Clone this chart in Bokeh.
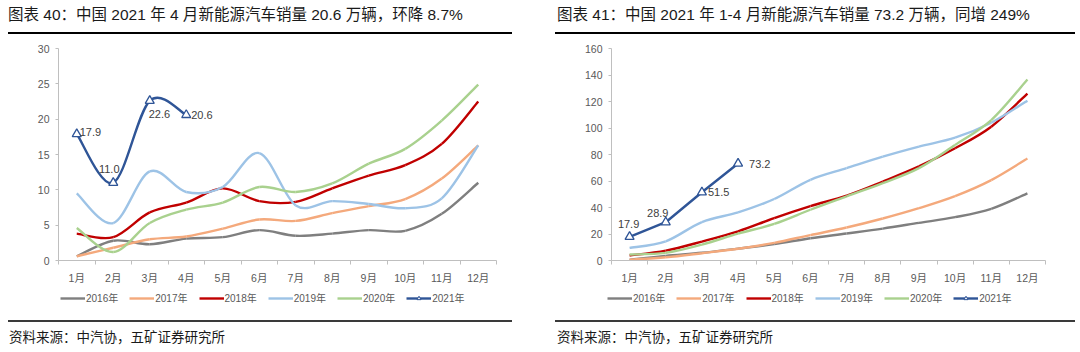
import numpy as np
from bokeh.plotting import figure
from bokeh.layouts import row, column
from bokeh.models import Range1d, FixedTicker, Legend, LegendItem, ColumnDataSource, Div
from bokeh.core.properties import value
from bokeh.embed import file_html
from bokeh.resources import INLINE

months = ["1月", "2月", "3月", "4月", "5月", "6月", "7月", "8月", "9月", "10月", "11月", "12月"]
years = ["2016年", "2017年", "2018年", "2019年", "2020年", "2021年"]

title_left = "图表 40：中国 2021 年 4 月新能源汽车销量 20.6 万辆，环降 8.7%"
title_right = "图表 41：中国 2021 年 1-4 月新能源汽车销量 73.2 万辆，同增 249%"
source_text = "资料来源：中汽协，五矿证券研究所"

# Monthly NEV sales (10k units)
m2016 = [0.6, 2.8, 2.3, 3.1, 3.3, 4.3, 3.5, 3.8, 4.3, 4.2, 6.6, 11.0]
m2017 = [0.6, 1.8, 3.0, 3.4, 4.5, 5.8, 5.6, 6.7, 7.7, 8.7, 11.6, 16.3]
m2018 = [3.8, 3.3, 6.8, 8.2, 10.2, 8.4, 8.3, 10.2, 12.0, 13.5, 16.5, 22.5]
m2019 = [9.5, 5.3, 12.6, 9.7, 10.4, 15.2, 7.8, 8.4, 8.0, 7.4, 8.8, 16.3]
m2020 = [4.6, 1.2, 5.3, 7.2, 8.2, 10.4, 9.7, 10.9, 13.7, 15.8, 19.8, 24.9]
m2021 = [17.9, 11.0, 22.6, 20.6]

# Cumulative NEV sales (10k units)
c2016 = [0.6, 3.5, 5.8, 9.0, 12.4, 16.8, 20.4, 24.1, 28.4, 32.7, 39.0, 50.7]
c2017 = [0.6, 2.4, 5.5, 8.9, 13.3, 19.2, 24.9, 31.7, 39.5, 48.6, 60.7, 77.0]
c2018 = [3.8, 7.5, 14.3, 22.0, 32.0, 41.0, 49.0, 59.6, 71.0, 84.7, 101.0, 126.0]
c2019 = [9.5, 14.5, 29.0, 36.3, 46.4, 60.9, 69.7, 78.4, 86.0, 92.7, 104.0, 120.6]
c2020 = [4.5, 5.8, 12.0, 20.3, 27.6, 38.3, 48.4, 58.4, 69.7, 87.2, 106.0, 136.6]
c2021 = [17.9, 28.9, 51.5, 73.2]

colors = ["#7f7f7f", "#f4a97c", "#c00000", "#9dc3e6", "#a9d18e", "#2f5597"]

FONT = "'Liberation Sans', 'Noto Sans CJK SC', sans-serif"
GREY = "#595959"
AXIS = "#bfbfbf"
LW = 2.4


def bezier_source(ys):
    xs = np.arange(1, len(ys) + 1, dtype=float)
    y = np.asarray(ys, dtype=float)
    n = len(y)
    px = np.concatenate([[xs[0]], xs, [xs[-1]]])
    py = np.concatenate([[y[0]], y, [y[-1]]])
    d = dict(x0=[], y0=[], x1=[], y1=[], cx0=[], cy0=[], cx1=[], cy1=[])
    for i in range(n - 1):
        d["x0"].append(px[i + 1]); d["y0"].append(py[i + 1])
        d["x1"].append(px[i + 2]); d["y1"].append(py[i + 2])
        d["cx0"].append(px[i + 1] + (px[i + 2] - px[i]) / 6)
        d["cy0"].append(py[i + 1] + (py[i + 2] - py[i]) / 6)
        d["cx1"].append(px[i + 2] - (px[i + 3] - px[i + 1]) / 6)
        d["cy1"].append(py[i + 2] - (py[i + 3] - py[i + 1]) / 6)
    return ColumnDataSource(d)


def make_panel(series, last, ymax, ystep, left, right, bottom, smooth_last, label_specs):
    p = figure(width=540, height=252, output_backend="svg", toolbar_location=None,
               x_range=Range1d(0.5, 12.5), y_range=Range1d(0, ymax),
               min_border_left=left, min_border_right=right, min_border_top=8,
               min_border_bottom=bottom)
    p.outline_line_color = None
    p.xgrid.visible = False
    p.ygrid.visible = False
    p.background_fill_color = "white"
    p.border_fill_color = "white"

    xa = p.xaxis[0]
    xa.ticker = FixedTicker(ticks=list(range(1, 13)), minor_ticks=[i + 0.5 for i in range(0, 13)])
    xa.major_label_overrides = {i + 1: m for i, m in enumerate(months)}
    xa.axis_line_color = AXIS
    xa.major_tick_out = 0
    xa.major_tick_in = 0
    xa.minor_tick_out = 4
    xa.minor_tick_in = 0
    xa.minor_tick_line_color = AXIS
    xa.major_label_text_font = FONT
    xa.major_label_text_font_size = "10.5px"
    xa.major_label_text_color = GREY
    xa.major_label_standoff = 7

    ya = p.yaxis[0]
    ya.ticker = FixedTicker(ticks=list(range(0, ymax + 1, ystep)))
    ya.axis_line_color = AXIS
    ya.major_tick_line_color = AXIS
    ya.major_tick_out = 3
    ya.major_tick_in = 0
    ya.minor_tick_line_color = None
    ya.major_label_text_font = FONT
    ya.major_label_text_font_size = "10.5px"
    ya.major_label_text_color = GREY
    ya.major_label_standoff = 6

    for ys, c in zip(series, colors[:5]):
        src = bezier_source(ys)
        p.bezier(x0="x0", y0="y0", x1="x1", y1="y1", cx0="cx0", cy0="cy0", cx1="cx1", cy1="cy1",
                 source=src, line_color=c, line_width=LW)

    xs_last = list(range(1, len(last) + 1))
    if smooth_last:
        src = bezier_source(last)
        p.bezier(x0="x0", y0="y0", x1="x1", y1="y1", cx0="cx0", cy0="cy0", cx1="cx1", cy1="cy1",
                 source=src, line_color=colors[5], line_width=LW)
    else:
        p.line(x=xs_last, y=last, line_color=colors[5], line_width=LW)
    p.scatter(x=xs_last, y=last, marker="triangle", size=9, line_color=colors[5],
              fill_color="white", line_width=1.3)

    for (xi, yi), (dx, dy, align) in zip(zip(xs_last, last), label_specs):
        p.text(x=[xi], y=[yi], text=[f"{yi:.1f}"], x_offset=dx, y_offset=dy,
               text_align=align, text_baseline="middle", text_font=value(FONT),
               text_font_size="11px", text_color="#404040")
    return p


def make_legend(leg_x):
    q = figure(width=540, height=18, output_backend="svg", toolbar_location=None,
               x_range=Range1d(0, 1), y_range=Range1d(0, 1),
               x_axis_type=None, y_axis_type=None, min_border=0)
    q.outline_line_color = None
    q.xgrid.visible = False
    q.ygrid.visible = False
    items = []
    for name, c in zip(years[:5], colors[:5]):
        src = ColumnDataSource(dict(x=[np.nan], y=[np.nan]))
        r = q.line(x="x", y="y", source=src, line_color=c, line_width=LW)
        items.append(LegendItem(label=name, renderers=[r]))
    src = ColumnDataSource(dict(x=[np.nan], y=[np.nan]))
    rl = q.line(x="x", y="y", source=src, line_color=colors[5], line_width=LW)
    rm = q.scatter(x="x", y="y", source=src, marker="triangle", size=6, line_color=colors[5],
                   fill_color="white", line_width=1.0)
    items.append(LegendItem(label=years[5], renderers=[rl, rm]))
    legend = Legend(items=items, orientation="horizontal", location=(leg_x, 5),
                    glyph_width=25, glyph_height=10, label_standoff=1, spacing=11,
                    padding=0, margin=0, border_line_color=None, background_fill_alpha=0,
                    label_text_font=FONT, label_text_font_size="10px",
                    label_text_color=GREY, label_height=12)
    q.add_layout(legend, "center")
    return q


p1 = make_panel([m2016, m2017, m2018, m2019, m2020], m2021, 30, 5, 58, 44, 32, True,
                [(3, -2, "left"), (-4, -14, "center"), (-1, 13, "left"), (5, 0, "left")])
p2 = make_panel([c2016, c2017, c2018, c2019, c2020], c2021, 160, 20, 71, 35, 31, False,
                [(-1, -13, "center"), (-8, -9, "center"), (6, 0, "left"), (11, 0, "left")])
l1 = make_legend(60)
l2 = make_legend(67)

font_css = "font-family:'Liberation Sans','Noto Sans CJK SC',sans-serif;"
top_html = (
    f"<div style=\"position:relative;width:1080px;height:40px;{font_css}\">"
    f"<div style=\"position:absolute;left:8px;top:6px;font-size:15.5px;line-height:18px;color:#1a1a1a;white-space:nowrap;\">{title_left}</div>"
    "<div style=\"position:absolute;left:8px;top:32px;width:504px;height:2px;background:#000;\"></div>"
    f"<div style=\"position:absolute;left:557px;top:6px;font-size:15.5px;line-height:18px;color:#1a1a1a;white-space:nowrap;\">{title_right}</div>"
    "<div style=\"position:absolute;left:555px;top:32px;width:520px;height:2px;background:#000;\"></div>"
    "</div>"
)
bottom_html = (
    f"<div style=\"position:relative;width:1080px;height:42px;{font_css}\">"
    "<div style=\"position:absolute;left:8px;top:10px;width:504px;height:2px;background:#3a3a3a;\"></div>"
    f"<div style=\"position:absolute;left:9px;top:19px;font-size:13.5px;line-height:18px;color:#1a1a1a;white-space:nowrap;\">{source_text}</div>"
    "<div style=\"position:absolute;left:555px;top:10px;width:520px;height:2px;background:#3a3a3a;\"></div>"
    f"<div style=\"position:absolute;left:557px;top:19px;font-size:13.5px;line-height:18px;color:#1a1a1a;white-space:nowrap;\">{source_text}</div>"
    "</div>"
)
top_div = Div(text=top_html, width=1080, height=40, margin=0)
bottom_div = Div(text=bottom_html, width=1080, height=42, margin=0)

layout = column(top_div, row(p1, p2, spacing=0), row(l1, l2, spacing=0), bottom_div, spacing=0)
open("out.html", "w").write(file_html(layout, INLINE))
